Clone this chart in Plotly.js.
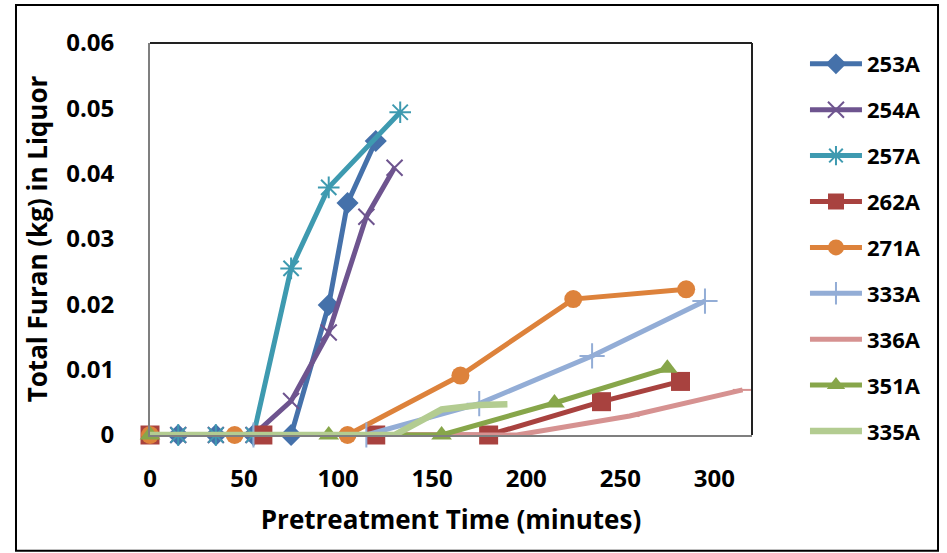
<!DOCTYPE html>
<html>
<head>
<meta charset="utf-8">
<script src="https://cdn.plot.ly/plotly-3.0.1.min.js"></script>
<style>html,body{margin:0;padding:0;background:#fff;}#chart{width:947px;height:553px;}</style>
</head>
<body>
<div id="chart"></div>
<script>
// Data (time in minutes, furan in kg)
const names = ["253A","254A","257A","262A","271A","333A","336A","351A","335A"];

const x253 = [15, 35, 55, 75, 95, 105, 120];
const y253 = [0, 0, 0, 0, 0.0199, 0.0355, 0.0450];

const x254 = [15, 35, 55, 75, 95, 115, 130];
const y254 = [0, 0, 0, 0.0052, 0.0157, 0.0334, 0.0409];

const x257 = [15, 35, 55, 75, 95, 133];
const y257 = [0, 0, 0, 0.0255, 0.0379, 0.0494];

const x262 = [0, 60, 120, 180, 240, 282];
const y262 = [0, 0, 0, 0, 0.0051, 0.0082];

const x271 = [0, 45, 105, 165, 225, 285];
const y271 = [0, 0, 0, 0.0091, 0.0208, 0.0223];

const x333 = [55, 115, 175, 235, 295];
const y333 = [0, 0, 0.0048, 0.0121, 0.0205];

const x336 = [75, 135, 195, 255, 315];
const y336 = [0, 0, 0, 0.0029, 0.0069];

const x351 = [0, 95, 155, 215, 275];
const y351 = [0, 0, 0, 0.0049, 0.0102];

const x335 = [0, 130, 155, 175, 190];
const y335 = [0, 0, 0.0039, 0.0046, 0.0047];

const xs = [x253, x254, x257, x262, x271, x333, x336, x351, x335];
const ys = [y253, y254, y257, y262, y271, y333, y336, y351, y335];

const colors = ["#4571AA","#6E548F","#3E9AB0","#A8423F","#DD823B","#93ADD6","#D69291","#87A64A","#B3CC91"];
const symbols = ["diamond","x-thin-open","asterisk-open","square","circle","cross-thin-open","line-ew-open","triangle-up","circle"];
const msizes = [17, 16, 18, 19, 18, 18, 14, 18, 0];
const lwidths = [5, 5, 5, 5, 5, 5, 5, 5, 6.5];

const traces = names.map((n, i) => {
  const open = symbols[i].indexOf("open") >= 0;
  return {
    type: "scatter",
    mode: msizes[i] > 0 ? "lines+markers" : "lines",
    name: n,
    x: xs[i],
    y: ys[i],
    cliponaxis: false,
    legendgroup: n,
    line: {color: colors[i], width: lwidths[i]},
    marker: {
      symbol: symbols[i],
      size: msizes[i],
      color: colors[i],
      line: {color: colors[i], width: open ? 2 : 0}
    }
  };
});

const font = "'Open Sans', Lato, sans-serif";

const layout = {
  width: 947,
  height: 553,
  paper_bgcolor: "#ffffff",
  plot_bgcolor: "#ffffff",
  margin: {l: 150, r: 195, t: 43, b: 118},
  showlegend: true,
  font: {family: font, color: "#000"},
  xaxis: {
    range: [0, 320],
    dtick: 50,
    tick0: 0,
    showgrid: false,
    zeroline: false,
    showline: true,
    linecolor: "#7f7f7f",
    linewidth: 2,
    ticks: "",
    ticklabelstandoff: 21,
    tickfont: {family: font, size: 24, color: "#000", weight: "bold"},
    title: {text: "<b>Pretreatment Time (minutes)</b>", font: {family: font, size: 26, color: "#000"}, standoff: 18}
  },
  yaxis: {
    range: [0, 0.06],
    dtick: 0.01,
    tick0: 0,
    showgrid: false,
    zeroline: false,
    showline: true,
    linecolor: "#7f7f7f",
    linewidth: 2,
    ticks: "",
    ticklabelstandoff: 29,
    tickfont: {family: font, size: 24, color: "#000", weight: "bold"},
    title: {text: "<b>Total Furan (kg) in Liquor</b>", font: {family: font, size: 26, color: "#000"}, standoff: 11}
  },
  legend: {
    x: 1.088,
    xanchor: "left",
    y: 1.0,
    yanchor: "top",
    maxheight: 520,
    itemwidth: 52,
    tracegroupgap: 14.3,
    font: {family: font, size: 22, color: "#000", weight: "bold"},
    bgcolor: "rgba(0,0,0,0)"
  },
  shapes: [
    {type: "line", xref: "paper", yref: "paper", x0: 0, x1: 1, y0: 1, y1: 1, line: {color: "#222", width: 2}},
    {type: "line", xref: "paper", yref: "paper", x0: 1, x1: 1, y0: 0, y1: 1, line: {color: "#222", width: 2}},
    {type: "rect", xref: "paper", yref: "paper", x0: -0.2226, x1: 1.3090, y0: -0.2955, y1: 1.0970, line: {color: "#000", width: 2}}
  ]
};

Plotly.newPlot("chart", traces, layout, {displayModeBar: false, staticPlot: true});
</script>
</body>
</html>
